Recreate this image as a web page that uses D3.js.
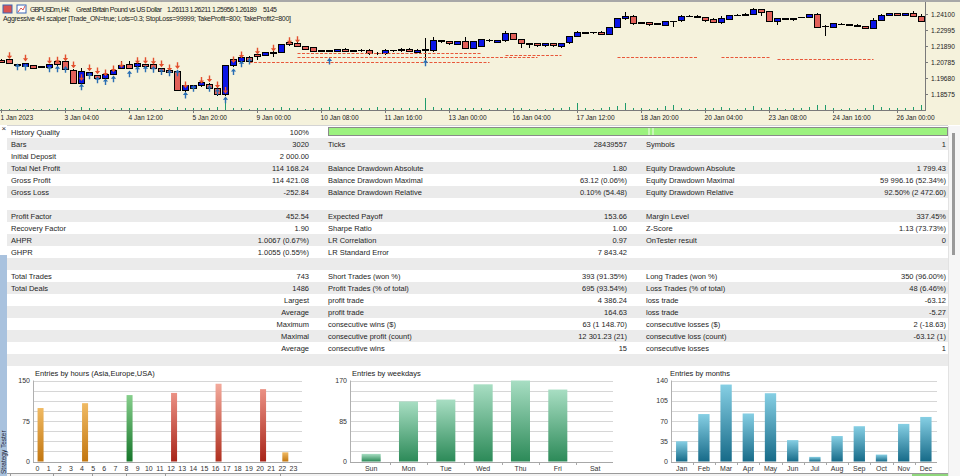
<!DOCTYPE html>
<meta charset="utf-8">
<script src="https://d3js.org/d3.v7.min.js"></script>
<style>
  body { margin: 0; background: #fff; overflow: hidden; }
  svg { display: block; font-family: "Liberation Sans", Arial, sans-serif; }
</style>
<svg></svg>
<script>
// ---------- price chart data (GBPUSDm H4, first bar 1 Jan 2023 20:00) ----------
// [open, high, low, close]
const candles = [
  [1.2092,1.2097,1.2070,1.2074],[1.2097,1.2102,1.2065,1.2069],[1.2058,1.2065,1.2053,1.2060],[1.2046,1.2070,1.2042,1.2065],
  [1.2051,1.2055,1.2030,1.2035],[1.2046,1.2049,1.2043,1.2046],[1.2039,1.2062,1.2035,1.2058],[1.2085,1.2090,1.2053,1.2058],
  [1.2079,1.2083,1.2024,1.2028],[1.2023,1.2030,1.1926,1.1931],[1.1931,1.2040,1.1910,1.2012],[1.1982,1.2012,1.1977,1.2005],
  [1.1986,1.1991,1.1958,1.1963],[1.1963,1.1995,1.1955,1.1989],[1.1991,1.2025,1.1986,1.2019],[1.2032,1.2088,1.2028,1.2055],
  [1.2058,1.2088,1.2030,1.2035],[1.2046,1.2075,1.2040,1.2069],[1.2060,1.2068,1.2040,1.2046],[1.2058,1.2065,1.2030,1.2035],
  [1.2035,1.2040,1.2005,1.2012],[1.2023,1.2030,1.2000,1.2005],[1.2012,1.2020,1.1880,1.1885],[1.1880,1.1920,1.1870,1.1913],
  [1.1894,1.1918,1.1890,1.1913],[1.1913,1.1942,1.1908,1.1936],[1.1920,1.1935,1.1888,1.1894],[1.1897,1.1905,1.1845,1.1851],
  [1.1851,1.2055,1.1841,1.2051],[1.2051,1.2102,1.2045,1.2097],[1.2081,1.2120,1.2076,1.2111],[1.2111,1.2118,1.2076,1.2081],
  [1.2127,1.2135,1.2092,1.2115],[1.2122,1.2150,1.2118,1.2145],[1.2140,1.2155,1.2115,1.2145],[1.2143,1.2205,1.2138,1.2196],
  [1.2212,1.2220,1.2190,1.2196],[1.2207,1.2215,1.2180,1.2184],[1.2184,1.2190,1.2160,1.2166],[1.2177,1.2182,1.2145,1.2150],
  [1.2157,1.2162,1.2145,1.2152],[1.2152,1.2160,1.2145,1.2155],[1.2150,1.2170,1.2145,1.2166],[1.2166,1.2172,1.2145,1.2150],
  [1.2155,1.2162,1.2150,1.2157],[1.2155,1.2165,1.2150,1.2160],[1.2161,1.2166,1.2130,1.2134],[1.2137,1.2145,1.2125,1.2140],
  [1.2134,1.2166,1.2128,1.2161],[1.2157,1.2163,1.2150,1.2159],[1.2155,1.2172,1.2150,1.2166],[1.2166,1.2172,1.2145,1.2150],
  [1.2145,1.2168,1.2140,1.2161],[1.2160,1.2242,1.2081,1.2162],[1.2157,1.2254,1.2150,1.2226],[1.2219,1.2230,1.2212,1.2224],
  [1.2219,1.2225,1.2198,1.2203],[1.2201,1.2222,1.2196,1.2217],[1.2217,1.2249,1.2170,1.2175],[1.2173,1.2225,1.2168,1.2219],
  [1.2189,1.2240,1.2185,1.2235],[1.2224,1.2235,1.2215,1.2228],[1.2212,1.2230,1.2208,1.2226],[1.2226,1.2293,1.2220,1.2272],
  [1.2272,1.2278,1.2230,1.2235],[1.2235,1.2240,1.2175,1.2203],[1.2203,1.2212,1.2175,1.2205],[1.2207,1.2212,1.2185,1.2191],
  [1.2191,1.2212,1.2185,1.2207],[1.2207,1.2212,1.2180,1.2191],[1.2184,1.2212,1.2178,1.2207],[1.2212,1.2258,1.2205,1.2253],
  [1.2258,1.2290,1.2250,1.2281],[1.2279,1.2286,1.2272,1.2281],[1.2281,1.2288,1.2275,1.2283],[1.2283,1.2290,1.2265,1.2270],
  [1.2270,1.2322,1.2265,1.2318],[1.2318,1.2380,1.2312,1.2376],[1.2376,1.2426,1.2370,1.2396],[1.2396,1.2402,1.2336,1.2341],
  [1.2348,1.2355,1.2343,1.2350],[1.2350,1.2355,1.2330,1.2336],[1.2340,1.2346,1.2332,1.2342],[1.2334,1.2362,1.2330,1.2357],
  [1.2357,1.2364,1.2322,1.2359],[1.2362,1.2400,1.2357,1.2396],[1.2394,1.2401,1.2390,1.2396],[1.2396,1.2401,1.2382,1.2387],
  [1.2387,1.2392,1.2358,1.2364],[1.2373,1.2380,1.2345,1.2350],[1.2350,1.2395,1.2340,1.2376],[1.2373,1.2405,1.2368,1.2401],
  [1.2401,1.2408,1.2396,1.2403],[1.2399,1.2415,1.2394,1.2410],[1.2410,1.2452,1.2405,1.2442],[1.2438,1.2442,1.2396,1.2422],
  [1.2426,1.2431,1.2352,1.2357],[1.2357,1.2380,1.2334,1.2376],[1.2373,1.2380,1.2366,1.2376],[1.2369,1.2385,1.2364,1.2380],
  [1.2385,1.2392,1.2380,1.2387],[1.2387,1.2413,1.2382,1.2408],[1.2410,1.2415,1.2310,1.2318],[1.2325,1.2332,1.2260,1.2327],
  [1.2318,1.2346,1.2313,1.2341],[1.2338,1.2345,1.2333,1.2340],[1.2336,1.2340,1.2329,1.2334],[1.2334,1.2340,1.2318,1.2322],
  [1.2322,1.2327,1.2305,1.2311],[1.2311,1.2385,1.2306,1.2364],[1.2364,1.2408,1.2359,1.2403],[1.2403,1.2420,1.2398,1.2415],
  [1.2415,1.2420,1.2396,1.2401],[1.2403,1.2420,1.2398,1.2415],[1.2415,1.2428,1.2390,1.2396],[1.2396,1.2410,1.2352,1.2357]
];
const volumes = [
  1,1,1,1,1,1,1,2,2,1,3,2,1,2,1,2,2,2,2,1,2,1,3,2,2,2,2,3,12,2,2,1,2,2,2,3,2,2,1,2,
  2,3,2,2,2,2,2,3,2,2,2,2,2,12,3,2,2,2,2,2,2,1,2,2,2,2,1,1,1,2,2,3,7,2,1,2,3,4,7,2,
  2,1,2,4,5,2,1,1,2,2,3,2,1,2,4,2,3,2,1,2,2,3,5,5,2,1,2,1,2,5,3,2,2,2,3,5
];
// deal markers: [bar, price]
const sellDeals = [[1,1.2115],[3,1.2097],[6,1.2081],[7,1.2083],[8,1.2099],[9,1.2051],[10,1.1963],[11,1.2030],
  [12,1.2009],[13,1.1996],[14,1.2023],[15,1.2053],[17,1.2081],[18,1.2081],[19,1.2076],[20,1.2058],[21,1.2030],
  [22,1.2046],[23,1.1913],[25,1.1943],[26,1.1954],[27,1.1913],[28,1.1874],[29,1.2086],[30,1.2120],[32,1.2145],
  [34,1.2166],[36,1.2219],[37,1.2226]];
const buyDeals = [[2,1.2053],[3,1.2051],[6,1.2039],[7,1.2039],[8,1.2035],[10,1.1915],[11,1.1991],[12,1.1963],
  [13,1.1950],[14,1.1970],[16,1.2005],[17,1.2035],[18,1.2039],[19,1.2035],[20,1.2019],[21,1.2012],[22,1.2012],
  [23,1.1858],[24,1.1904],[26,1.1904],[27,1.1881],[28,1.1825],[29,1.2019],[30,1.2074],[31,1.2092],[41,1.2092],[53,1.2081]];
// dotted order lines: [fromBar, toBar, price]
const orderLines = [[37,60,1.2138],[37,67,1.2111],[31,61,1.2081],[63,70,1.2127],[77,87,1.2111],[90,96,1.2111],[97,109,1.2097]];
const priceTicks = [1.24100, 1.22995, 1.21890, 1.20785, 1.19680, 1.18575];
const timeLabels = ["1 Jan 2023","3 Jan 04:00","4 Jan 12:00","5 Jan 20:00","9 Jan 00:00","10 Jan 08:00","11 Jan 16:00",
  "13 Jan 00:00","16 Jan 04:00","17 Jan 12:00","18 Jan 20:00","20 Jan 04:00","23 Jan 08:00","24 Jan 16:00","26 Jan 00:00"];

// ---------- report table ----------
const col1Labels = ["History Quality","Bars","Initial Deposit","Total Net Profit","Gross Profit","Gross Loss","",
  "Profit Factor","Recovery Factor","AHPR","GHPR","","Total Trades","Total Deals","","","","","",""];
const col1Values = ["100%","3020","2 000.00","114 168.24","114 421.08","-252.84","","452.54","1.90",
  "1.0067 (0.67%)","1.0055 (0.55%)","","743","1486","Largest","Average","Maximum","Maximal","Average",""];
const col2Labels = ["","Ticks","","Balance Drawdown Absolute","Balance Drawdown Maximal","Balance Drawdown Relative","",
  "Expected Payoff","Sharpe Ratio","LR Correlation","LR Standard Error","","Short Trades (won %)",
  "Profit Trades (% of total)","profit trade","profit trade","consecutive wins ($)","consecutive profit (count)",
  "consecutive wins",""];
const col2Values = ["","28439557","","1.80","63.12 (0.06%)","0.10% (54.48)","","153.66","1.00","0.97","7 843.42","",
  "393 (91.35%)","695 (93.54%)","4 386.24","164.63","63 (1 148.70)","12 301.23 (21)","15",""];
const col3Labels = ["","Symbols","","Equity Drawdown Absolute","Equity Drawdown Maximal","Equity Drawdown Relative","",
  "Margin Level","Z-Score","OnTester result","","","Long Trades (won %)","Loss Trades (% of total)","loss trade",
  "loss trade","consecutive losses ($)","consecutive loss (count)","consecutive losses",""];
const col3Values = ["","1","","1 799.43","59 996.16 (52.34%)","92.50% (2 472.60)","","337.45%","1.13 (73.73%)","0","","",
  "350 (96.00%)","48 (6.46%)","-63.12","-5.27","2 (-18.63)","-63.12 (1)","1",""];

// ---------- entry histograms ----------
const hourLabels = d3.range(24).map(String);
const hourEntries = [99,0,0,0,108,0,0,0,123,0,0,0,127,0,0,0,144,0,0,0,134,0,17,0];
const weekdayLabels = ["Sun","Mon","Tue","Wed","Thu","Fri","Sat"];
const weekdayEntries = [16,126,130,162,170,151,0];
const monthLabels = ["Jan","Feb","Mar","Apr","May","Jun","Jul","Aug","Sep","Oct","Nov","Dec"];
const monthEntries = [35,82,133,83,118,37,8,44,61,12,65,77];

const svg = d3.select("svg").attr("width", 960).attr("height", 476);

// ================= price chart =================
svg.append("rect").attr("width", 960).attr("height", 125).attr("fill", "#f5f2dc");
svg.append("rect").attr("width", 960).attr("height", 2).attr("fill", "#a8a8a8");

const x = d3.scaleBand().domain(d3.range(candles.length)).range([-2.5, 925.5])
  .paddingInner(0.25).paddingOuter(0.125);
const cx = i => x(i) + x.bandwidth() / 2;
const y = d3.scaleLinear().domain([1.18575, 1.241]).range([94, 14]);
const yVol = d3.scaleLinear().domain([0, 12]).range([110, 98]);

const plot = svg.append("g").attr("shape-rendering", "crispEdges");

// volumes
plot.selectAll("line.vol").data(volumes).join("line")
  .attr("x1", (d, i) => Math.floor(cx(i)) + 0.5).attr("x2", (d, i) => Math.floor(cx(i)) + 0.5)
  .attr("y1", yVol(0)).attr("y2", d => yVol(d))
  .attr("stroke", "#1f9b6b");

// order lines
svg.append("g").selectAll("line").data(orderLines).join("line")
  .attr("x1", d => cx(d[0])).attr("x2", d => cx(d[1]))
  .attr("y1", d => Math.round(y(d[2])) + 0.5).attr("y2", d => Math.round(y(d[2])) + 0.5)
  .attr("stroke", "#e8583a").attr("stroke-width", 1).attr("stroke-dasharray", "3,1.5");

// candles
const cg = plot.selectAll("g.c").data(candles).join("g");
cg.append("line")
  .attr("x1", (d, i) => Math.floor(cx(i)) + 0.5).attr("x2", (d, i) => Math.floor(cx(i)) + 0.5)
  .attr("y1", d => y(d[1])).attr("y2", d => y(d[2]))
  .attr("stroke", "#000");
cg.append("rect")
  .attr("x", (d, i) => Math.floor(cx(i)) - 2.5).attr("width", 6)
  .attr("y", d => y(Math.max(d[0], d[3])))
  .attr("height", d => Math.max(0.5, Math.abs(y(d[0]) - y(d[3]))))
  .attr("fill", d => d[3] >= d[0] ? "#0a14e6" : "#e2615a")
  .attr("stroke", "#000");

// deal arrows
const mk = svg.append("g");
mk.selectAll("path.s").data(sellDeals).join("path")
  .attr("transform", d => `translate(${cx(d[0])},${y(d[1])})`)
  .attr("d", "M-0.7,-4.5V-1H-2.6L0,2.2L2.6,-1H0.7V-4.5Z")
  .attr("fill", "#e2502e");
mk.selectAll("path.b").data(buyDeals).join("path")
  .attr("transform", d => `translate(${cx(d[0])},${y(d[1])})`)
  .attr("d", "M-0.7,4.5V1H-2.6L0,-2.2L2.6,1H0.7V4.5Z")
  .attr("fill", "#2a6fb4");

// time axis
svg.append("g").attr("transform", "translate(0,110)")
  .call(d3.axisBottom(x).tickValues(d3.range(0, 113, 8)).tickFormat((d, k) => timeLabels[k])
    .tickSize(3).tickSizeOuter(0))
  .call(g => g.select(".domain").attr("stroke", "#7a7a7a"))
  .call(g => g.selectAll(".tick line").attr("stroke", "#7a7a7a"))
  .call(g => g.selectAll(".tick text").attr("text-anchor", "start").attr("dx", -1).attr("dy", "0.55em")
    .attr("font-size", 6.6).attr("fill", "#222").attr("font-family", "Liberation Sans, Arial"));

// price axis
svg.append("line").attr("x1", 925.5).attr("x2", 925.5).attr("y1", 2).attr("y2", 110)
  .attr("stroke", "#7a7a7a");
svg.append("g").attr("transform", "translate(925,0)")
  .call(d3.axisRight(y).tickValues(priceTicks).tickFormat(d3.format(".5f")).tickSize(3))
  .call(g => g.select(".domain").remove())
  .call(g => g.selectAll(".tick line").attr("stroke", "#7a7a7a"))
  .call(g => g.selectAll(".tick text").attr("font-size", 6.6).attr("fill", "#222")
    .attr("font-family", "Liberation Sans, Arial"));

// header
const hdr = svg.append("g").attr("font-size", 7).attr("fill", "#222");
hdr.append("rect").attr("x", 3).attr("y", 5).attr("width", 9).attr("height", 8).attr("fill", "#d9534f").attr("stroke", "#3a67b7");
hdr.append("rect").attr("x", 17).attr("y", 5).attr("width", 9).attr("height", 8).attr("fill", "#ffffff").attr("stroke", "#3a67b7");
hdr.append("path").attr("d", "M18,12L21,8L23,10L25,6").attr("fill", "none").attr("stroke", "#d9534f");
hdr.append("text").attr("x", 30).attr("y", 11.5).attr("textLength", 40).text("GBPUSDm, H4:");
hdr.append("text").attr("x", 76).attr("y", 11.5).attr("textLength", 86).text("Great Britain Pound vs US Dollar");
hdr.append("text").attr("x", 167).attr("y", 11.5).attr("textLength", 90).text("1.26113 1.26211 1.25956 1.26189");
hdr.append("text").attr("x", 263).attr("y", 11.5).attr("textLength", 14).text("5145");
hdr.append("text").attr("x", 3).attr("y", 21).attr("textLength", 288)
  .text("Aggressive 4H scalper [Trade_ON=true; Lots=0.3; StopLoss=99999; TakeProfit=800; TakeProfit2=800]");

// ================= report table =================
svg.append("rect").attr("y", 125).attr("width", 960).attr("height", 351).attr("fill", "#fff");
const rowY = i => 126 + 12 * i;
const tbl = svg.append("g").attr("font-size", 7.5).attr("fill", "#1e1e1e");
tbl.selectAll("rect.row").data(d3.range(20)).join("rect")
  .attr("x", 7).attr("y", rowY).attr("width", 941).attr("height", 12)
  .attr("fill", i => i % 2 ? "#ebebeb" : "#ffffff");
svg.append("line").attr("x1", 7).attr("x2", 948).attr("y1", 125.5).attr("y2", 125.5).attr("stroke", "#d4d4d4");

// history quality bar
svg.append("rect").attr("x", 328.5).attr("y", 127.5).attr("width", 619).attr("height", 8)
  .attr("fill", "#9cf27f").attr("stroke", "#8a8a8a");
svg.append("rect").attr("x", 648).attr("y", 128).attr("width", 2).attr("height", 7).attr("fill", "#c9f7b8");
svg.append("rect").attr("x", 652).attr("y", 128).attr("width", 2).attr("height", 7).attr("fill", "#c9f7b8");

const cols = [
  {lx: 11, vx: 309, labels: col1Labels, values: col1Values},
  {lx: 328, vx: 627, labels: col2Labels, values: col2Values},
  {lx: 646, vx: 946, labels: col3Labels, values: col3Values}
];
cols.forEach(c => {
  tbl.append("g").selectAll("text").data(c.labels).join("text")
    .attr("x", c.lx).attr("y", (d, i) => rowY(i) + 9).text(d => d);
  tbl.append("g").selectAll("text").data(c.values).join("text")
    .attr("x", c.vx).attr("y", (d, i) => rowY(i) + 9).attr("text-anchor", "end").text(d => d);
});
svg.append("text").attr("x", 1.5).attr("y", 131).attr("font-size", 8).attr("fill", "#333").text("×");

// right scrollbar
svg.append("rect").attr("x", 948).attr("y", 126).attr("width", 12).attr("height", 350).attr("fill", "#f6f6f6");
svg.append("line").attr("x1", 948.5).attr("x2", 948.5).attr("y1", 126).attr("y2", 476).attr("stroke", "#e2e2e2");
svg.append("rect").attr("x", 952).attr("y", 133).attr("width", 3).attr("height", 122).attr("fill", "#9a9a9a");

// ================= entry histograms =================
function histogram(cfg) {
  const g = svg.append("g");
  const xb = d3.scaleBand().domain(cfg.labels).range(cfg.range).paddingInner(cfg.pad).paddingOuter(cfg.pad / 2);
  const yb = d3.scaleLinear().domain([0, cfg.max]).range([461.5, 380.5]);
  const defs = g.append("defs");
  cfg.colors.forEach((c, k) => {
    const lg = defs.append("linearGradient").attr("id", cfg.id + k).attr("x1", 0).attr("x2", 0).attr("y1", 0).attr("y2", 1);
    lg.append("stop").attr("offset", "0%").attr("stop-color", c[0]);
    lg.append("stop").attr("offset", "100%").attr("stop-color", c[1]);
  });
  g.append("g").attr("shape-rendering", "crispEdges").selectAll("line").data(d3.range(9)).join("line")
    .attr("x1", cfg.grid[0]).attr("x2", cfg.grid[1])
    .attr("y1", k => Math.round(yb(cfg.max * k / 8)) + 0.5).attr("y2", k => Math.round(yb(cfg.max * k / 8)) + 0.5)
    .attr("stroke", k => k === 0 ? "#a8a8a8" : "#d6d6d6");
  g.append("line").attr("x1", cfg.grid[0] + 0.5).attr("x2", cfg.grid[0] + 0.5)
    .attr("y1", 380.5).attr("y2", 462).attr("stroke", "#b0b0b0");
  if (cfg.ticks) {
    g.selectAll("line.t").data(cfg.labels.slice(1)).join("line")
      .attr("x1", d => Math.round(xb(d) - xb.step() * cfg.pad / 2) + 0.5)
      .attr("x2", d => Math.round(xb(d) - xb.step() * cfg.pad / 2) + 0.5)
      .attr("y1", 462).attr("y2", 465).attr("stroke", "#a8a8a8");
  }
  g.selectAll("rect.bar").data(cfg.values).join("rect")
    .attr("x", (d, i) => xb(cfg.labels[i]) + (cfg.shift || 0))
    .attr("width", xb.bandwidth())
    .attr("y", d => yb(d)).attr("height", d => yb(0) - yb(d))
    .attr("fill", (d, i) => `url(#${cfg.id}${cfg.colorOf(i)})`);
  g.selectAll("text.y").data(cfg.yTicks).join("text")
    .attr("x", cfg.grid[0] - 3).attr("y", d => yb(d) + 2.5).attr("text-anchor", "end")
    .attr("font-size", 7).attr("fill", "#333").text(d => d);
  g.selectAll("text.x").data(cfg.labels).join("text")
    .attr("x", d => xb(d) + xb.bandwidth() / 2).attr("y", 471).attr("text-anchor", "middle")
    .attr("font-size", 7).attr("fill", "#333").text(d => d);
  g.append("text").attr("x", cfg.title[0]).attr("y", 376).attr("font-size", 7.5).attr("fill", "#222").text(cfg.title[1]);
}

histogram({
  id: "gh", labels: hourLabels, values: hourEntries, max: 150, yTicks: [0, 75, 150],
  range: [32, 299], pad: 0.46, shift: 3, grid: [33, 302], title: [35, "Entries by hours (Asia,Europe,USA)"],
  colors: [["#f0ba63", "#c27610"], ["#86cf8c", "#16762a"], ["#eb9184", "#a82519"], ["#f3aa9c", "#b0301f"]],
  colorOf: i => i >= 8 && i < 12 ? 1 : (i >= 12 && i < 22 ? (i === 16 ? 3 : 2) : 0)
});
histogram({
  id: "gw", labels: weekdayLabels, values: weekdayEntries, max: 170, yTicks: [0, 85, 170],
  range: [352.5, 613.8], pad: 0.49, grid: [350, 613], ticks: true, title: [352, "Entries by weekdays"],
  colors: [["#a8dec3", "#2c8a58"]], colorOf: () => 0
});
histogram({
  id: "gm", labels: monthLabels, values: monthEntries, max: 140, yTicks: [0, 35, 70, 105, 140],
  range: [670.6, 937], pad: 0.49, grid: [671, 937], ticks: true, title: [670, "Entries by months"],
  colors: [["#86cfe4", "#166a88"]], colorOf: () => 0
});

// left tool strip
svg.append("rect").attr("x", 0).attr("y", 255).attr("width", 7).attr("height", 221).attr("fill", "#a9c2de");
svg.append("text").attr("transform", "translate(6,474) rotate(-90)").attr("font-size", 6.5).attr("fill", "#223")
  .text("Strategy Tester");

// bottom tab bar
svg.append("rect").attr("x", 7).attr("y", 473).attr("width", 941).attr("height", 3).attr("fill", "#f2f2f2");
svg.append("line").attr("x1", 7).attr("x2", 948).attr("y1", 473.5).attr("y2", 473.5).attr("stroke", "#9a9a9a");
svg.append("g").selectAll("line").data([10, 53, 92, 126, 165, 280]).join("line")
  .attr("x1", d => d + 0.5).attr("x2", d => d + 0.5).attr("y1", 473).attr("y2", 476).attr("stroke", "#9a9a9a");
svg.append("rect").attr("x", 912).attr("y", 474).attr("width", 36).attr("height", 2).attr("fill", "#8fd67c");
</script>
